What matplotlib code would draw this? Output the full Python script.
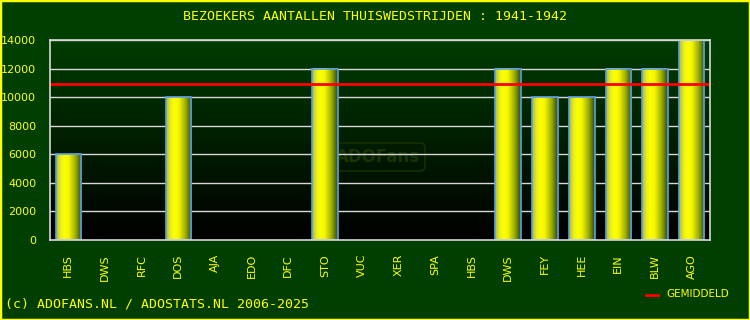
import numpy as np
import matplotlib
matplotlib.use("Agg")
import matplotlib.pyplot as plt
from matplotlib.colors import LinearSegmentedColormap
from matplotlib.patches import Rectangle

# data
teams = ["HBS", "DWS", "RFC", "DOS", "AJA", "EDO", "DFC", "STO", "VUC",
         "XER", "SPA", "HBS", "DWS", "FEY", "HEE", "EIN", "BLW", "AGO"]
visitors = [6000, 0, 0, 10000, 0, 0, 0, 12000, 0,
            0, 0, 0, 12000, 10000, 10000, 12000, 12000, 14000]
yticks = [0, 2000, 4000, 6000, 8000, 10000, 12000, 14000]
title = "BEZOEKERS AANTALLEN THUISWEDSTRIJDEN : 1941-1942"
footer = "(c) ADOFANS.NL / ADOSTATS.NL 2006-2025"

played = [v for v in visitors if v > 0]
avg = sum(played) / len(played)

BG = "#003f00"
YEL = "#ffff00"

fig = plt.figure(figsize=(7.5, 3.2), dpi=100, facecolor=BG)
# yellow frame around the whole picture
fig.patches.append(Rectangle((0, 0), 1, 1, transform=fig.transFigure,
                             fill=False, edgecolor=YEL, linewidth=2.5))

ax = fig.add_axes([50 / 750, 80 / 320, 660 / 750, 200 / 320])
n = len(teams)
ax.set_xlim(-0.5, n - 0.5)
ax.set_ylim(0, 14000)

# vertical background gradient in the plot area
bg = LinearSegmentedColormap.from_list("bg", ["#000000", "#003c00"])
grad = np.linspace(0, 1, 256).reshape(-1, 1)
ax.imshow(grad, cmap=bg, aspect="auto", origin="lower",
          extent=(-0.5, n - 0.5, 0, 14000), zorder=0)

# faint watermark, under the grid
ax.text((378 - 50) / 660, (240 - 157) / 200, "ADOFans", transform=ax.transAxes,
        ha="center", va="center", fontsize=12, fontweight="bold",
        color="#1a3300", zorder=0.5,
        bbox=dict(boxstyle="round,pad=0.3", facecolor="none",
                  edgecolor="#1a3300", linewidth=1))

for y in yticks[1:]:
    ax.axhline(y, color="#d8d8d8", linewidth=1, zorder=1)

# bars with horizontal cylinder gradient
barcm = LinearSegmentedColormap.from_list(
    "bar", [(0.0, "#a8b850"), (0.18, "#e8f020"), (0.33, "#ffff00"),
            (0.5, "#f4f400"), (0.75, "#a0b000"), (1.0, "#2c4a08")])
hgrad = np.linspace(0, 1, 128).reshape(1, -1)
w = 0.7
for i, v in enumerate(visitors):
    if v <= 0:
        continue
    ax.imshow(hgrad, cmap=barcm, aspect="auto",
              extent=(i - w / 2, i + w / 2, 0, v), zorder=2)
    ax.add_patch(Rectangle((i - w / 2, 0), w, v, fill=False,
                           edgecolor="#58a0e8", linewidth=1.2, zorder=3))

ax.axhline(avg, color="#ff0000", linewidth=2, zorder=4)

ax.set_xticks(range(n))
ax.set_xticklabels(teams, rotation=90)
ax.set_yticks(yticks)
ax.tick_params(axis="both", colors=YEL, labelsize=8, length=0)
ax.tick_params(axis="x", pad=10)
ax.tick_params(axis="y", pad=10)
for s in ax.spines.values():
    s.set_color("#d8d8d8")
    s.set_linewidth(1.2)
    s.set_zorder(5)

fig.text(0.5, 1 - 17 / 320, title, ha="center", va="center", color=YEL,
         fontsize=9.5, family="DejaVu Sans Mono")
fig.text(5 / 750, 1 - 304 / 320, footer, ha="left", va="center", color=YEL,
         fontsize=9.5, family="DejaVu Sans Mono")

fig.lines.append(plt.Line2D([646 / 750, 658 / 750], [1 - 295 / 320] * 2,
                            transform=fig.transFigure, color="#ff0000",
                            linewidth=2))
fig.text(666 / 750, 1 - 294 / 320, "GEMIDDELD", ha="left", va="center",
         color=YEL, fontsize=7.5)

fig.savefig("out.png", dpi=100, facecolor=BG)
